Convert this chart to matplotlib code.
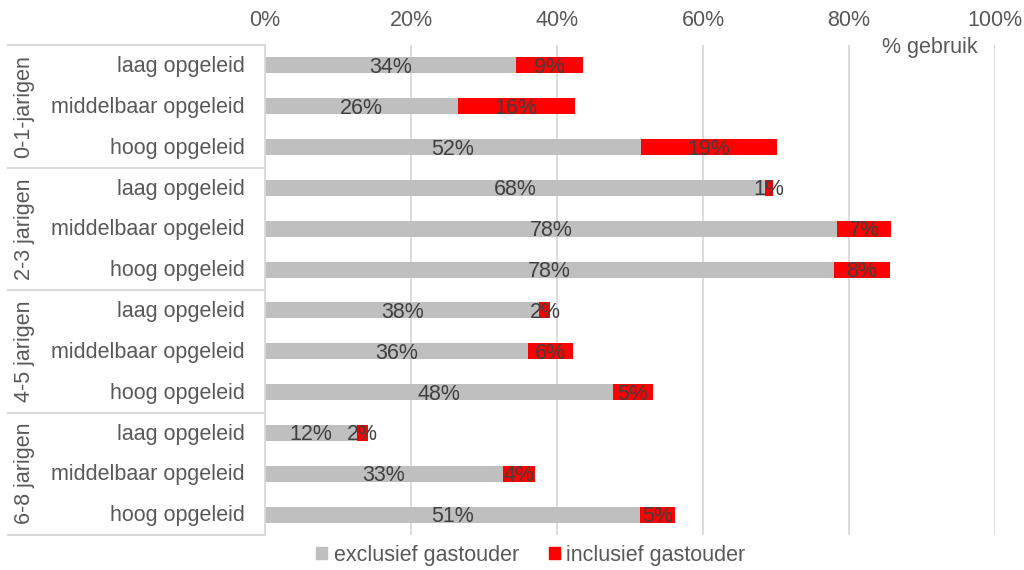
import matplotlib
matplotlib.use("Agg")
import matplotlib.pyplot as plt
import numpy as np
from matplotlib.lines import Line2D
from matplotlib.patches import Patch

plt.rcParams["font.family"] = ["Liberation Sans", "DejaVu Sans"]

groups = ["0-1-jarigen", "2-3 jarigen", "4-5 jarigen", "6-8 jarigen"]
levels = ["laag opgeleid", "middelbaar opgeleid", "hoog opgeleid"]

exclusief = [34.4, 26.4, 51.5, 68.5, 78.4, 77.9, 37.6, 36.0, 47.7, 12.6, 32.6, 51.4]
inclusief = [9.1, 16.0, 18.6, 1.1, 7.3, 7.7, 1.5, 6.2, 5.4, 1.5, 4.4, 4.7]
excl_labels = ["34%", "26%", "52%", "68%", "78%", "78%", "38%", "36%", "48%", "12%", "33%", "51%"]
incl_labels = ["9%", "16%", "19%", "1%", "7%", "8%", "2%", "6%", "5%", "2%", "4%", "5%"]
xticks = [0, 20, 40, 60, 80, 100]

GREY = "#bfbfbf"
RED = "#ff0000"
TXT = "#404040"
LINE = "#d9d9d9"
FS = 15.5

fig = plt.figure(figsize=(10.24, 5.7), dpi=100)
ax = fig.add_axes([265 / 1024, 1 - 535 / 570, 730 / 1024, 490 / 570])

y = np.arange(len(exclusief))
h = 0.39
ax.barh(y, exclusief, height=h, color=GREY, zorder=2)
ax.barh(y, inclusief, left=exclusief, height=h, color=RED, zorder=2)

dy = 0.05  # Excel draws the value labels a touch below the bar centre
for i in range(len(y)):
    ax.text(exclusief[i] / 2, y[i] + dy, excl_labels[i], ha="center", va="center",
            fontsize=FS, color=TXT, zorder=3)
    ax.text(exclusief[i] + inclusief[i] / 2, y[i] + dy, incl_labels[i], ha="center",
            va="center", fontsize=FS, color=TXT, zorder=3)

ax.set_xlim(0, 100)
ax.set_ylim(len(y) - 0.5, -0.5)
ax.set_xticks(xticks)
ax.set_xticklabels([f"{t}%" for t in xticks], fontsize=FS, color="#595959")
ax.xaxis.tick_top()
ax.tick_params(axis="x", length=0, pad=10)
ax.set_yticks([])
ax.grid(axis="x", color=LINE, lw=1.3, zorder=0)
for s in ["top", "right", "bottom"]:
    ax.spines[s].set_visible(False)
ax.spines["left"].set_color(LINE)
ax.spines["left"].set_linewidth(1.3)

ax.text(978 / 1024, 1 - 47 / 570, "% gebruik", transform=fig.transFigure,
        ha="right", va="center", fontsize=FS, color="#595959")

# category table on the left
tr = ax.get_yaxis_transform()
x_left = -257 / 730
for g in range(len(groups) + 1):
    yy = g * 3 - 0.5
    ax.add_line(Line2D([x_left, 0], [yy, yy], transform=tr, color=LINE,
                       lw=1.5, clip_on=False))
for g, name in enumerate(groups):
    ax.text(-241 / 730, g * 3 + 1, name, transform=tr, rotation=90,
            ha="center", va="center", fontsize=FS, color="#595959")
    for j, lv in enumerate(levels):
        ax.text(-20 / 730, g * 3 + j + 0.03, lv, transform=tr, ha="right",
                va="center", fontsize=FS, color="#595959")

handles = [Patch(color=GREY, label="exclusief gastouder"),
           Patch(color=RED, label="inclusief gastouder")]
fig.legend(handles=handles, loc="center", bbox_to_anchor=(531 / 1024, 1 - 555 / 570),
           ncol=2, frameon=False, fontsize=FS, labelcolor="#595959",
           handlelength=0.5, handleheight=0.5, handletextpad=0.3, columnspacing=1.4)

fig.savefig("out.png", dpi=100)
